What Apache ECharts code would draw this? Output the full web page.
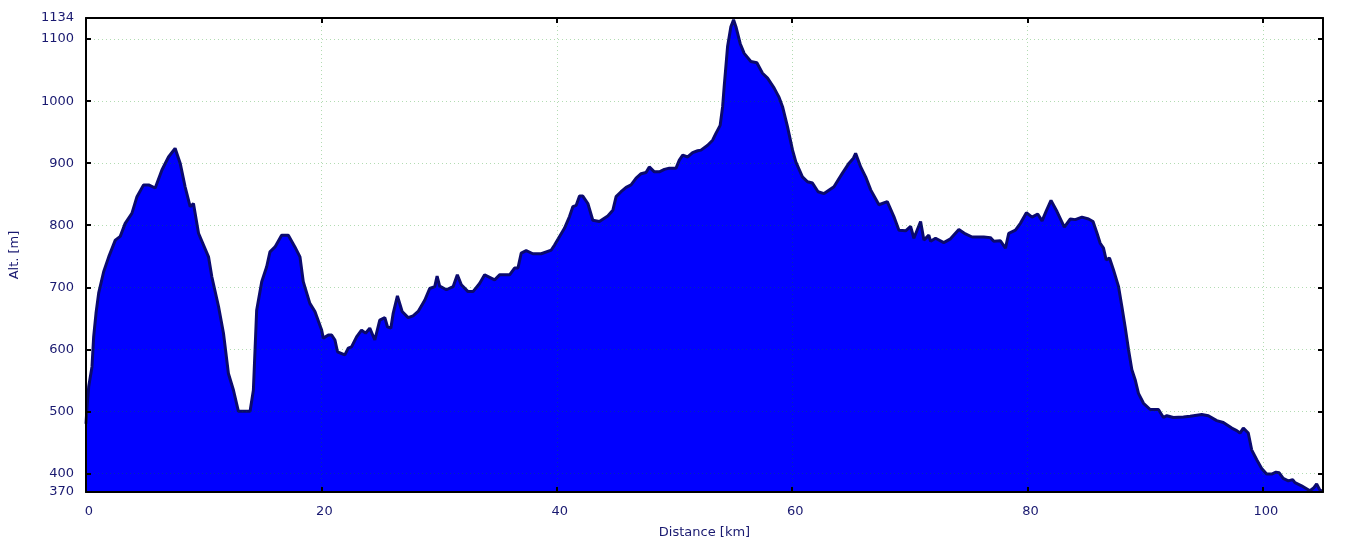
<!DOCTYPE html>
<html>
<head>
<meta charset="utf-8">
<script src="https://cdn.jsdelivr.net/npm/echarts@6/dist/echarts.min.js"></script>
<style>
html,body{margin:0;padding:0;background:#fff;}
#chart{width:1361px;height:551px;}
</style>
</head>
<body>
<div id="chart"></div>
<script>
const distances = [0.0,0.1,0.23,0.51,0.65,0.85,1.08,1.50,1.93,2.49,2.91,3.33,3.90,4.33,4.89,5.32,5.88,6.45,7.01,7.57,8.00,8.42,8.85,9.13,9.56,10.41,10.69,11.26,11.68,12.10,12.53,12.95,13.94,14.22,14.50,14.93,15.35,15.63,16.06,16.62,17.19,17.75,18.18,18.46,19.02,19.45,20.02,20.16,20.59,20.87,21.15,21.37,21.99,22.28,22.56,22.99,23.41,23.75,24.11,24.54,24.96,25.39,25.62,25.90,26.10,26.46,26.86,27.37,27.79,28.22,28.78,29.20,29.63,29.83,30.05,30.62,31.19,31.55,31.89,32.46,32.88,33.44,33.87,34.72,35.14,35.99,36.41,36.70,36.98,37.40,37.97,38.68,39.53,39.81,40.65,41.08,41.37,41.65,41.93,42.21,42.64,43.06,43.62,44.33,44.76,45.04,45.46,45.89,46.31,46.74,47.16,47.58,47.86,48.29,48.71,49.14,49.56,50.13,50.41,50.70,51.12,51.54,51.97,52.25,52.82,53.24,53.52,53.88,54.09,54.22,54.51,54.79,55.02,55.22,55.58,55.92,56.49,57.00,57.48,57.91,58.47,58.89,59.18,59.60,60.03,60.31,60.87,61.30,61.72,62.20,62.71,63.55,64.27,64.83,65.20,65.39,65.82,66.24,66.67,67.37,68.08,68.64,69.07,69.64,70.06,70.34,70.91,71.19,71.61,71.76,72.18,72.88,73.45,74.16,74.72,75.29,76.28,76.84,77.13,77.69,78.12,78.40,78.97,79.39,79.90,80.38,80.86,81.23,81.59,81.99,82.50,83.12,83.63,84.05,84.62,85.18,85.56,85.90,86.17,86.45,86.68,86.96,87.30,87.73,88.01,88.29,88.58,88.86,89.14,89.42,89.85,90.42,91.12,91.54,91.83,92.39,93.24,93.81,94.80,95.36,96.07,96.63,97.35,97.77,98.05,98.33,98.75,99.04,99.47,99.89,100.31,100.74,101.10,101.38,101.72,102.15,102.52,102.72,103.28,103.99,104.33,104.56,104.84,105.10];
const altitudes = [480,510,540,572,620,658,691,725,749,776,782,803,819,846,865,865,860,889,910,924,900,862,830,835,787,749,717,669,626,561,534,500,500,534,663,709,733,757,765,784,784,765,749,709,674,661,631,618,623,623,615,596,591,602,604,620,631,626,634,615,647,651,636,634,658,686,661,651,654,661,679,698,701,718,702,696,701,720,704,693,693,706,720,712,720,720,731,731,755,759,754,754,760,768,795,814,830,832,847,847,835,808,806,815,824,846,854,861,865,876,883,885,894,886,886,890,892,892,905,913,910,917,920,921,929,937,948,961,991,1023,1088,1120,1131,1120,1093,1077,1064,1062,1045,1037,1021,1006,991,959,921,902,878,870,868,854,851,862,884,900,908,916,894,878,857,833,838,814,792,791,798,779,806,776,784,774,779,772,778,793,786,781,781,780,774,775,763,787,792,803,820,813,818,807,823,840,822,797,810,809,813,810,806,787,771,763,744,747,728,701,669,636,599,567,551,529,513,503,503,490,493,490,491,492,495,493,485,482,473,469,465,473,465,438,422,408,399,399,402,401,392,388,390,385,380,372,377,383,373,371];
const xTickValues = [0,20,40,60,80,100];
const yTickValues = [400,500,600,700,800,900,1000,1100];
const yLabelValues = [370,400,500,600,700,800,900,1000,1100,1134];
const xName = 'Distance [km]';
const yName = 'Alt. [m]';

const X_MIN = 0, X_MAX = 105.1, Y_MIN = 370, Y_MAX = 1134;
const textColor = '#191970';
const font = {fontFamily:'DejaVu Sans', fontSize:13, color:textColor};
const gridLine = {show:true, lineStyle:{type:[1,3], width:1, color:'rgba(0,140,0,0.3)'}};
const axisLine = {show:true, onZero:false, lineStyle:{color:'#000', width:2}};
const tick = {show:true, inside:true, length:5, lineStyle:{color:'#000', width:2}};
const plain = v => String(v);

const chart = echarts.init(document.getElementById('chart'), null, {renderer:'canvas'});
chart.setOption({
  animation:false,
  backgroundColor:'#fff',
  grid:{left:84, right:38, top:18, bottom:59, containLabel:false},
  xAxis:[
    {type:'value', position:'bottom', min:X_MIN, max:X_MAX, z:5,
     axisLine:axisLine,
     axisTick:Object.assign({customValues:xTickValues}, tick),
     axisLabel:Object.assign({margin:13, customValues:xTickValues, formatter:plain, padding:[0,0,0,6]}, font),
     splitLine:gridLine,
     name:xName, nameLocation:'middle', nameGap:34, nameTextStyle:font},
    {type:'value', position:'top', min:X_MIN, max:X_MAX, z:5,
     axisLine:axisLine,
     axisTick:Object.assign({customValues:xTickValues}, tick),
     axisLabel:{show:false}, splitLine:{show:false}}
  ],
  yAxis:[
    {type:'value', position:'left', min:Y_MIN, max:Y_MAX, z:5,
     axisLine:axisLine,
     axisTick:Object.assign({customValues:yTickValues}, tick),
     axisLabel:Object.assign({margin:12, customValues:yLabelValues, formatter:plain}, font),
     splitLine:gridLine,
     name:yName, nameLocation:'middle', nameRotate:90, nameGap:65, nameTextStyle:font},
    {type:'value', position:'right', min:Y_MIN, max:Y_MAX, z:5,
     axisLine:axisLine,
     axisTick:Object.assign({customValues:yTickValues}, tick),
     axisLabel:{show:false}, splitLine:{show:false}}
  ],
  series:[{
    type:'line', xAxisIndex:0, yAxisIndex:0, z:2,
    data: distances.map((d,i)=>[d, altitudes[i]]),
    showSymbol:false, symbol:'none', smooth:false,
    lineStyle:{color:'#0a0a6e', width:3},
    areaStyle:{color:'#0000ff', opacity:1, origin:'start'}
  }]
});
</script>
</body>
</html>
